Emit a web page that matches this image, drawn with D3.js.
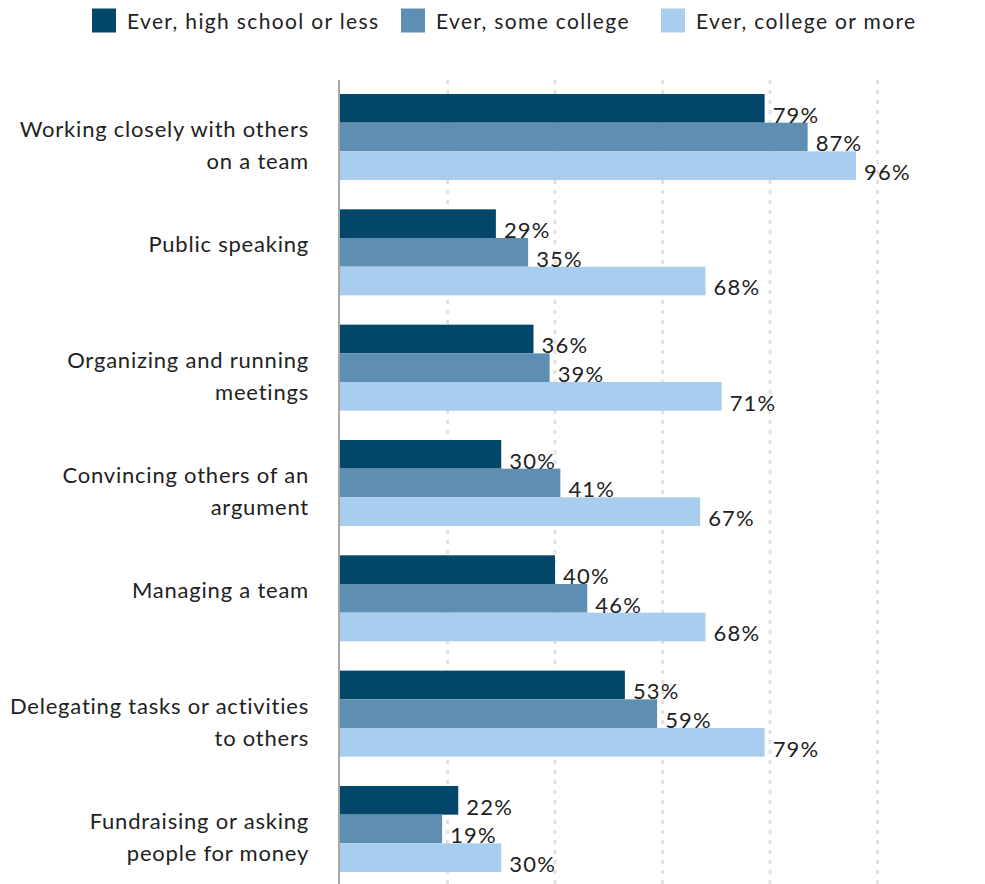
<!DOCTYPE html>
<html>
<head>
<meta charset="utf-8">
<script src="https://cdn.jsdelivr.net/npm/d3@7"></script>
<style>
  html, body { margin: 0; padding: 0; background: #fff; }
  svg { display: block; font-family: Lato, "Open Sans", sans-serif; }
</style>
</head>
<body>
<svg id="chart" width="985" height="884"></svg>
<script>
// Skills used at work, by education level (% who have ever done each)
const categories = [
  ["Working closely with others", "on a team"],
  ["Public speaking"],
  ["Organizing and running", "meetings"],
  ["Convincing others of an", "argument"],
  ["Managing a team"],
  ["Delegating tasks or activities", "to others"],
  ["Fundraising or asking", "people for money"]
];
const seriesNames = ["Ever, high school or less", "Ever, some college", "Ever, college or more"];
const highSchool = [79, 29, 36, 30, 40, 53, 22];
const someCollege = [87, 35, 39, 41, 46, 59, 19];
const collegePlus = [96, 68, 71, 67, 68, 79, 30];
const gridTicks = [20, 40, 60, 80, 100];
const colors = ["#02476a", "#5e8fb3", "#a9cdee"];

const seriesValues = [highSchool, someCollege, collegePlus];
const catKeys = categories.map(c => c.join(" "));

const svg = d3.select("#chart");

const x = d3.scaleLinear().domain([0, 100]).range([340, 877.5]);
const y = d3.scaleBand().domain(catKeys).range([94, 872]).paddingInner(0.254).paddingOuter(0);
const ySub = d3.scaleBand().domain(d3.range(seriesNames.length)).range([0, y.bandwidth()]);

// Dotted vertical gridlines
svg.append("g").selectAll("line")
  .data(gridTicks)
  .join("line")
  .attr("x1", d => x(d)).attr("x2", d => x(d))
  .attr("y1", 80).attr("y2", 884)
  .attr("stroke", "#e2e2e2")
  .attr("stroke-width", 3)
  .attr("stroke-dasharray", "4,6");

// Bars
const groups = svg.append("g").selectAll("g")
  .data(catKeys)
  .join("g")
  .attr("transform", d => `translate(0,${y(d)})`);

groups.each(function(key, i) {
  const g = d3.select(this);
  seriesValues.forEach((vals, s) => {
    g.append("rect")
      .attr("x", x(0))
      .attr("y", ySub(s))
      .attr("width", x(vals[i]) - x(0))
      .attr("height", ySub.bandwidth())
      .attr("fill", colors[s]);
  });
  seriesValues.forEach((vals, s) => {
    g.append("text")
      .attr("x", x(vals[i]) + 8)
      .attr("y", ySub(s) + ySub.bandwidth())
      .attr("font-size", 22)
      .attr("letter-spacing", 1.2)
      .attr("fill", "#222")
      .text(vals[i] + "%");
  });
});

// Baseline axis
svg.append("line")
  .attr("x1", x(0) - 1).attr("x2", x(0) - 1)
  .attr("y1", 80).attr("y2", 884)
  .attr("stroke", "#a8a8a8")
  .attr("stroke-width", 2);

// Category labels (right aligned, possibly two lines)
svg.append("g").selectAll("text")
  .data(categories)
  .join("text")
  .attr("x", 309)
  .attr("y", (d, i) => y(catKeys[i]) + y.bandwidth() / 2)
  .attr("text-anchor", "end")
  .attr("font-size", 22)
  .attr("letter-spacing", 0.78)
  .attr("fill", "#222")
  .each(function(lines) {
    const t = d3.select(this);
    lines.forEach((ln, k) => {
      t.append("tspan").attr("x", 309).attr("dy", k === 0 ? 0 : 32).text(ln);
    });
  });

// Legend
const legend = svg.append("g");
const legendX = [92, 401, 661];
seriesNames.forEach((name, s) => {
  legend.append("rect")
    .attr("x", legendX[s]).attr("y", 8.5)
    .attr("width", 24).attr("height", 24)
    .attr("fill", colors[s]);
  legend.append("text")
    .attr("x", legendX[s] + 35).attr("y", 29)
    .attr("font-size", 21)
    .attr("letter-spacing", 1.35)
    .attr("fill", "#222")
    .text(name);
});
</script>
</body>
</html>
